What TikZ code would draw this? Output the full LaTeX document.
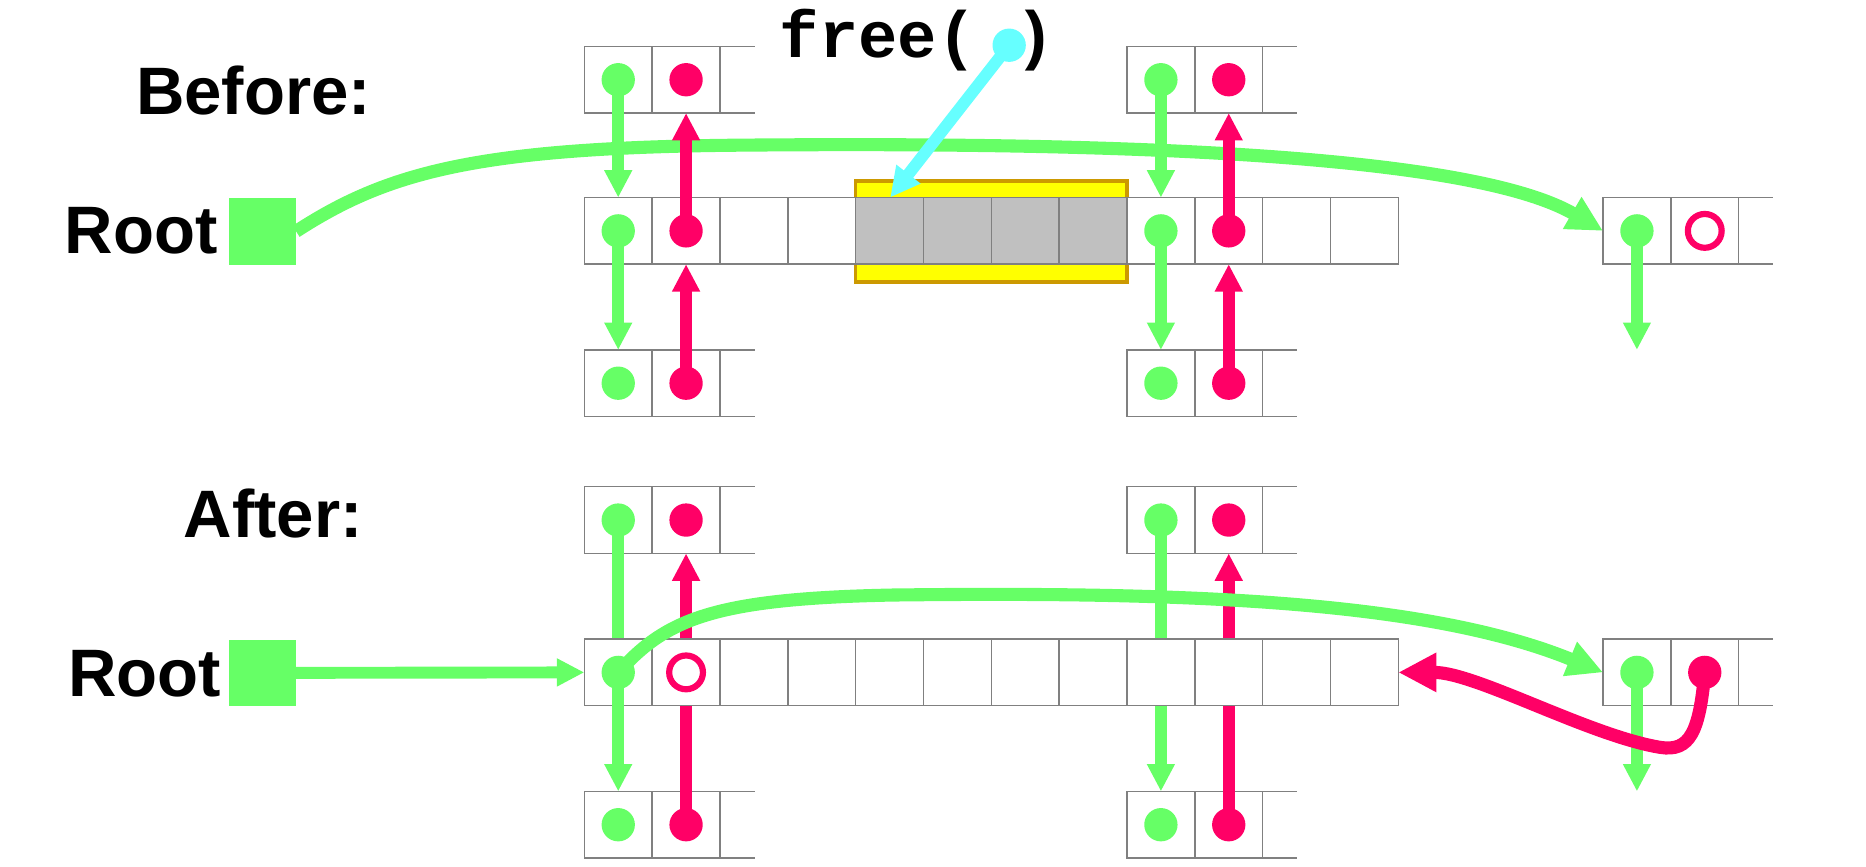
\documentclass[tikz,border=0pt]{standalone}
\usepackage{fontspec}
\setmainfont{Liberation Sans}
\newfontfamily\monofont{Liberation Mono}
\usetikzlibrary{arrows.meta}
\definecolor{ptrgreen}{HTML}{66FF66}
\definecolor{ptrred}{HTML}{FF0066}
\definecolor{ptrcyan}{HTML}{66FFFF}
\definecolor{hlyellow}{HTML}{FFFF00}
\definecolor{hlborder}{HTML}{CC9900}
\definecolor{freed}{HTML}{C0C0C0}
\definecolor{cellline}{HTML}{808080}
\tikzset{
 cell/.style={draw=cellline, line width=0.6pt, fill=white, minimum width=28.5pt, minimum height=28pt, inner sep=0pt, outer sep=0pt, anchor=north west},
 freecell/.style={cell, fill=freed},
 edgeline/.style={draw=cellline, line width=0.6pt},
 gdot/.style={circle, fill=ptrgreen, minimum size=14pt, inner sep=0pt},
 rdot/.style={circle, fill=ptrred, minimum size=14pt, inner sep=0pt},
 rring/.style={circle, draw=ptrred, line width=2.6pt, minimum size=14.2pt, inner sep=0pt},
 cdotst/.style={circle, fill=ptrcyan, minimum size=14pt, inner sep=0pt},
 gptr/.style={draw=ptrgreen, line width=5pt, -{Triangle[length=11.5pt,width=11pt]}},
 gline/.style={draw=ptrgreen, line width=5pt},
 rptr/.style={draw=ptrred, line width=5pt, -{Triangle[length=11.5pt,width=11pt]}},
 gbig/.style={draw=ptrgreen, line width=5.5pt, -{Triangle[length=15pt,width=14.5pt]}},
 rbig/.style={draw=ptrred, line width=5.5pt, -{Triangle[length=16pt,width=15.5pt]}},
 cptr/.style={draw=ptrcyan, line width=5pt, -{Triangle[length=12.5pt,width=12pt]}},
 lbl/.style={font=\fontsize{28.2}{34}\selectfont\bfseries, inner sep=0pt, anchor=base west},
 rootsq/.style={fill=ptrgreen, minimum width=28pt, minimum height=28pt, inner sep=0pt, anchor=north west},
}
\newcommand\twoblock[3]{%
  \node[cell] (#1a) at (#2,#3) {};
  \node[cell] (#1b) at ({#2+57},#3) {};
  \draw[edgeline] (#1b.north east) -- ++(29,0);
  \draw[edgeline] (#1b.south east) -- ++(29,0);
}
\begin{document}
\begin{tikzpicture}[x=0.5pt,y=-0.5pt]
\useasboundingbox (0,0) rectangle (1568,728);

% ---------------- Before ----------------
\node[lbl] (before) at (114,96) {Before:};
\node[lbl] (rootb) at (54,213) {Root};
\node[rootsq] (bRoot) at (192,166) {};

\draw[fill=hlyellow, draw=hlborder, line width=1.5pt] (719,152) rectangle (947,237);
\twoblock{bTL}{491}{39}
\twoblock{bBL}{491}{294}
\twoblock{bTR}{947}{39}
\twoblock{bBR}{947}{294}
\twoblock{bFR}{1347}{166}
\foreach \i in {1,2,3,4,9,10,11,12} \node[cell] (bm\i) at ({491+57*(\i-1)},166) {};
\foreach \i in {5,6,7,8} \node[freecell] (bm\i) at ({491+57*(\i-1)},166) {};

\node[gdot] (bTLg) at (bTLa.center) {};
\node[rdot] (bTLr) at (bTLb.center) {};
\node[gdot] (bM1g) at (bm1.center) {};
\node[rdot] (bM2r) at (bm2.center) {};
\node[gdot] (bBLg) at (bBLa.center) {};
\node[rdot] (bBLr) at (bBLb.center) {};
\node[gdot] (bTRg) at (bTRa.center) {};
\node[rdot] (bTRr) at (bTRb.center) {};
\node[gdot] (bM9g) at (bm9.center) {};
\node[rdot] (bM10r) at (bm10.center) {};
\node[gdot] (bBRg) at (bBRa.center) {};
\node[rdot] (bBRr) at (bBRb.center) {};
\node[gdot] (bFRg) at (bFRa.center) {};
\node[rring] (bFRr) at (bFRb.center) {};
\coordinate (bFRend) at (bFRa.center |- bBRa.north);

\draw[gbig] (bRoot.east) .. controls (325,145) and (400,124) .. (620,122)
  .. controls (900,119.5) and (1230,126) .. (bFRa.west);

\draw[gptr] (bTLg.center) -- (bm1.north);
\draw[gptr] (bM1g.center) -- (bBLa.north);
\draw[gptr] (bTRg.center) -- (bm9.north);
\draw[gptr] (bM9g.center) -- (bBRa.north);
\draw[gptr] (bFRg.center) -- (bFRend);
\draw[rptr] (bM2r.center) -- (bTLb.south);
\draw[rptr] (bBLr.center) -- (bm2.south);
\draw[rptr] (bM10r.center) -- (bTRb.south);
\draw[rptr] (bBRr.center) -- (bm10.south);

\node[lbl, font=\monofont\fontsize{27.5}{33}\selectfont\bfseries] (freelbl) at (655,48) {free(\ )};
\coordinate (ctip) at (748,166);
\draw[cptr] (848,38) -- (ctip);
\node[cdotst] (cdot) at (848,38) {};

% ---------------- After ----------------
\node[lbl] (after) at (154,452) {After:};
\node[lbl] (roota) at (57,585) {Root};
\node[rootsq] (aRoot) at (192,537) {};

\twoblock{aTL}{491}{409}
\twoblock{aBL}{491}{665}
\twoblock{aTR}{947}{409}
\twoblock{aBR}{947}{665}
\twoblock{aFR}{1347}{537}

\node[gdot] (aTLg) at (aTLa.center) {};
\node[rdot] (aTLr) at (aTLb.center) {};
\node[gdot] (aBLg) at (aBLa.center) {};
\node[rdot] (aBLr) at (aBLb.center) {};
\node[gdot] (aTRg) at (aTRa.center) {};
\node[rdot] (aTRr) at (aTRb.center) {};
\node[gdot] (aBRg) at (aBRa.center) {};
\node[rdot] (aBRr) at (aBRb.center) {};

\draw[gline] (aTLg.center) -- (aTLg.center |- 0,537);
\draw[gptr] (aTRg.center) -- (aBRa.north);
\draw[rptr] (aBLr.center) -- (aTLb.south);
\draw[rptr] (aBRr.center) -- (aTRb.south);

\foreach \i in {1,...,12} \node[cell] (am\i) at ({491+57*(\i-1)},537) {};

\node[gdot] (aM1g) at (am1.center) {};
\node[rring] (aM2r) at (am2.center) {};
\node[gdot] (aFRg) at (aFRa.center) {};
\node[rdot] (aFRr) at (aFRb.center) {};
\coordinate (aFRend) at (aFRa.center |- aBRa.north);

\draw[gptr] (aM1g.center) -- (aBLa.north);
\draw[gbig] (aM1g.center) .. controls (560,520) and (600,503) .. (750,500)
  .. controls (1000,497) and (1200,505) .. (aFRa.west);
\draw[gptr] (aRoot.east) -- (am1.west);
\draw[gptr] (aFRg.center) -- (aFRend);
\draw[rbig] (aFRr.center) .. controls (1428,615) and (1420,632) .. (1395,628)
  .. controls (1335,618) and (1240,565) .. (am12.east);
\end{tikzpicture}
\end{document}
